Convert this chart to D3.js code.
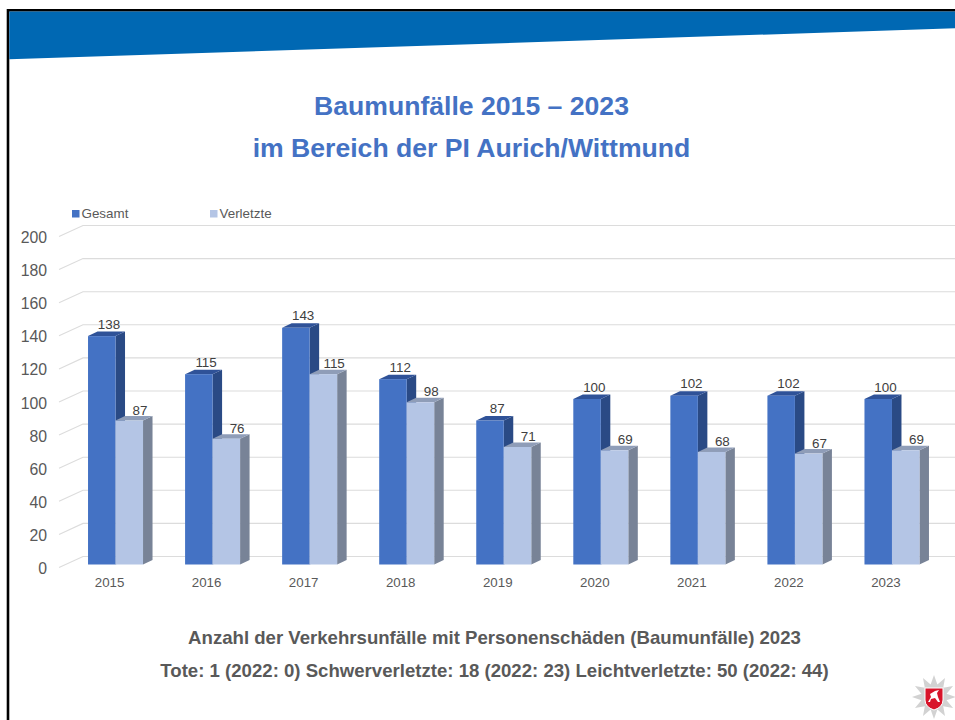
<!DOCTYPE html>
<html>
<head>
<meta charset="utf-8">
<script src="https://cdn.jsdelivr.net/npm/d3@7"></script>
<style>
  html, body { margin: 0; padding: 0; background: #fff; }
  svg { display: block; font-family: "Liberation Sans", Arial, sans-serif; }
</style>
</head>
<body>
<svg id="chart"></svg>
<script>
var years = [2015, 2016, 2017, 2018, 2019, 2020, 2021, 2022, 2023];
var gesamt = [138, 115, 143, 112, 87, 100, 102, 102, 100];
var verletzte = [87, 76, 115, 98, 71, 69, 68, 67, 69];
var yTicks = [0, 20, 40, 60, 80, 100, 120, 140, 160, 180, 200];
var seriesNames = ['Gesamt', 'Verletzte'];
var titleLines = ['Baumunfälle 2015 – 2023', 'im Bereich der PI Aurich/Wittmund'];
var noteLines = [
  'Anzahl der Verkehrsunfälle mit Personenschäden (Baumunfälle) 2023',
  'Tote: 1 (2022: 0) Schwerverletzte: 18 (2022: 23) Leichtverletzte: 50 (2022: 44)'
];

var width = 955;
var height = 720;
var depthX = 24;      // floor depth of the 3d plot
var depthY = 11;
var barDepthX = 9.5;  // depth of one bar
var barDepthY = 4.5;

var svg = d3.select('#chart').attr('width', width).attr('height', height);

// slide header and frame
svg.append('rect').attr('x', 8).attr('y', 10.3).attr('width', width).attr('height', height).attr('fill', 'none').attr('stroke', '#000').attr('stroke-width', 2.6);
svg.append('path').attr('d', 'M9.3,11.6 L955,11.6 L955,28.3 L9.3,59.3 Z').attr('fill', '#0068b3');

svg.selectAll('.title')
  .data(titleLines)
  .enter()
  .append('text')
    .attr('class', 'title')
    .attr('x', 471.5)
    .attr('y', function(d, i) { return 115 + i * 42; })
    .attr('text-anchor', 'middle')
    .attr('font-size', 26.6)
    .attr('font-weight', 'bold')
    .attr('fill', '#4472c4')
    .text(function(d) { return d; });

var yScale = d3.scaleLinear().domain([0, 200]).range([564.5, 233.5]);
var xScale = d3.scaleBand().domain(years).range([67, 940.5]).paddingInner(0).paddingOuter(0);
var barWidth = 27.5;

function barLeft(i) {
  return xScale(years[i]) + xScale.bandwidth() / 2 - barWidth;
}

// gridlines: back wall plus the slanted part on the side wall
var grid = svg.append('g');
yTicks.forEach(function(t) {
  var y = yScale(t);
  grid.append('path')
    .attr('d', 'M59,' + (y + 3) + ' L' + (59 + depthX) + ',' + (y - depthY + 3) + ' L955,' + (y - depthY + 3))
    .attr('fill', 'none')
    .attr('stroke', '#dcdcdc')
    .attr('stroke-width', 1.1);
});

var yAxis = d3.axisLeft(yScale).tickValues(yTicks).tickSize(0).tickPadding(0);
var yG = svg.append('g').attr('transform', 'translate(47, 4)').call(yAxis);
yG.select('.domain').remove();
yG.selectAll('text').attr('font-size', 15.8).attr('fill', '#595959').attr('font-family', 'Liberation Sans, Arial, sans-serif');

var xAxis = d3.axisBottom(xScale).tickSize(0).tickPadding(0);
var xG = svg.append('g').attr('transform', 'translate(-6, 578)').call(xAxis);
xG.select('.domain').remove();
xG.selectAll('text').attr('font-size', 13.3).attr('fill', '#595959').attr('font-family', 'Liberation Sans, Arial, sans-serif');

// one 3d bar: side, top, front
function drawBar(g, x, value, colors) {
  var y0 = yScale(0);
  var y1 = yScale(value);
  var w = barWidth;
  g.append('path')
    .attr('d', 'M' + (x + w) + ',' + y1 + ' L' + (x + w + barDepthX) + ',' + (y1 - barDepthY) + ' L' + (x + w + barDepthX) + ',' + (y0 - barDepthY) + ' L' + (x + w) + ',' + y0 + ' Z')
    .attr('fill', colors.side);
  g.append('path')
    .attr('d', 'M' + x + ',' + y1 + ' L' + (x + barDepthX) + ',' + (y1 - barDepthY) + ' L' + (x + w + barDepthX) + ',' + (y1 - barDepthY) + ' L' + (x + w) + ',' + y1 + ' Z')
    .attr('fill', colors.top);
  g.append('rect')
    .attr('x', x)
    .attr('y', y1)
    .attr('width', w)
    .attr('height', y0 - y1)
    .attr('fill', colors.front);
}

var gesamtColors = { front: '#4472c4', side: '#2a4a85', top: '#2f5298' };
var verletzteColors = { front: '#b4c5e5', side: '#788397', top: '#8f9db8' };

var bars = svg.append('g');
years.forEach(function(year, i) {
  var x = barLeft(i);
  drawBar(bars, x, gesamt[i], gesamtColors);
  drawBar(bars, x + barWidth, verletzte[i], verletzteColors);
});

// value labels
var labels = svg.append('g').attr('font-size', 13.4).attr('fill', '#404040').attr('text-anchor', 'middle');
years.forEach(function(year, i) {
  var x = barLeft(i);
  labels.append('text').attr('x', x + 21).attr('y', yScale(gesamt[i]) - 7.5).text(gesamt[i]);
  labels.append('text').attr('x', x + barWidth + 24.5).attr('y', yScale(verletzte[i]) - 6).text(verletzte[i]);
});

// legend
var legendX = [72, 210];
seriesNames.forEach(function(name, i) {
  svg.append('rect').attr('x', legendX[i]).attr('y', 210).attr('width', 7.5).attr('height', 7.5)
    .attr('fill', i === 0 ? gesamtColors.front : verletzteColors.front);
  svg.append('text').attr('x', legendX[i] + 9.5).attr('y', 218).attr('font-size', 13.4).attr('fill', '#595959').text(name);
});

svg.selectAll('.note')
  .data(noteLines)
  .enter()
  .append('text')
    .attr('class', 'note')
    .attr('x', 494.5)
    .attr('y', function(d, i) { return 644 + i * 33; })
    .attr('text-anchor', 'middle')
    .attr('font-size', 18.6)
    .attr('font-weight', 'bold')
    .attr('fill', '#595959')
    .text(function(d) { return d; });

// police star badge, bottom right
var cx = 934, cy = 697;
var starPts = d3.range(24).map(function(i) {
  var r = i % 2 === 0 ? 22 : 13;
  var a = i * Math.PI / 12 - Math.PI / 2;
  return [cx + r * Math.cos(a), cy + r * Math.sin(a)];
});
svg.append('polygon').attr('points', starPts.join(' ')).attr('fill', '#d2d2d2');
svg.append('path')
  .attr('d', 'M' + (cx - 9) + ',' + (cy - 9) + ' h18 v12 q0,7 -9,10 q-9,-3 -9,-10 Z')
  .attr('fill', '#d8142a').attr('stroke', '#fff').attr('stroke-width', 1);
svg.append('path')
  .attr('d', 'M' + (cx - 6) + ',' + (cy + 5) + ' l3,-5 l-1,-3 l5,-3 l4,-1 l-2,3 l1,4 l2,5 l-2,0 l-3,-4 l-4,1 l-1,3 Z')
  .attr('fill', '#fff');
</script>
</body>
</html>
